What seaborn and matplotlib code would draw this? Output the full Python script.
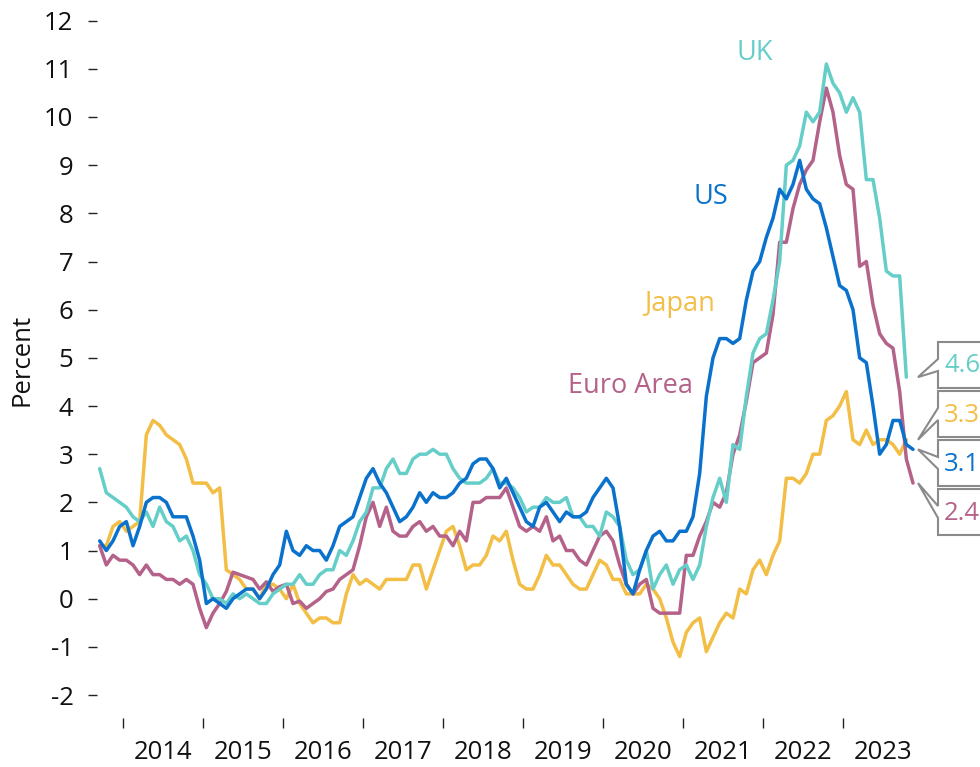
import matplotlib
matplotlib.use("Agg")
import matplotlib.pyplot as plt
import numpy as np
import pandas as pd
import seaborn as sns
from matplotlib.patches import Polygon
from matplotlib.transforms import IdentityTransform

# ---------------- data (monthly, year-on-year %, starting Sep 2013) ----------------
start_year = 2013
start_month = 9

us = [1.2, 1.0, 1.2, 1.5,
      1.6, 1.1, 1.5, 2.0, 2.1, 2.1, 2.0, 1.7, 1.7, 1.7, 1.3, 0.8,
      -0.1, 0.0, -0.1, -0.2, 0.0, 0.1, 0.2, 0.2, 0.0, 0.2, 0.5, 0.7,
      1.4, 1.0, 0.9, 1.1, 1.0, 1.0, 0.8, 1.1, 1.5, 1.6, 1.7, 2.1,
      2.5, 2.7, 2.4, 2.2, 1.9, 1.6, 1.7, 1.9, 2.2, 2.0, 2.2, 2.1,
      2.1, 2.2, 2.4, 2.5, 2.8, 2.9, 2.9, 2.7, 2.3, 2.5, 2.2, 1.9,
      1.6, 1.5, 1.9, 2.0, 1.8, 1.6, 1.8, 1.7, 1.7, 1.8, 2.1, 2.3,
      2.5, 2.3, 1.5, 0.3, 0.1, 0.6, 1.0, 1.3, 1.4, 1.2, 1.2, 1.4,
      1.4, 1.7, 2.6, 4.2, 5.0, 5.4, 5.4, 5.3, 5.4, 6.2, 6.8, 7.0,
      7.5, 7.9, 8.5, 8.3, 8.6, 9.1, 8.5, 8.3, 8.2, 7.7, 7.1, 6.5,
      6.4, 6.0, 5.0, 4.9, 4.0, 3.0, 3.2, 3.7, 3.7, 3.2, 3.1]

uk = [2.7, 2.2, 2.1, 2.0,
      1.9, 1.7, 1.6, 1.8, 1.5, 1.9, 1.6, 1.5, 1.2, 1.3, 1.0, 0.5,
      0.3, 0.0, 0.0, -0.1, 0.1, 0.0, 0.1, 0.0, -0.1, -0.1, 0.1, 0.2,
      0.3, 0.3, 0.5, 0.3, 0.3, 0.5, 0.6, 0.6, 1.0, 0.9, 1.2, 1.6,
      1.8, 2.3, 2.3, 2.7, 2.9, 2.6, 2.6, 2.9, 3.0, 3.0, 3.1, 3.0,
      3.0, 2.7, 2.5, 2.4, 2.4, 2.4, 2.5, 2.7, 2.4, 2.4, 2.3, 2.1,
      1.8, 1.9, 1.9, 2.1, 2.0, 2.0, 2.1, 1.7, 1.7, 1.5, 1.5, 1.3,
      1.8, 1.7, 1.5, 0.8, 0.5, 0.6, 1.0, 0.2, 0.5, 0.7, 0.3, 0.6,
      0.7, 0.4, 0.7, 1.5, 2.1, 2.5, 2.0, 3.2, 3.1, 4.2, 5.1, 5.4,
      5.5, 6.2, 7.0, 9.0, 9.1, 9.4, 10.1, 9.9, 10.1, 11.1, 10.7, 10.5,
      10.1, 10.4, 10.1, 8.7, 8.7, 7.9, 6.8, 6.7, 6.7, 4.6]

japan = [1.1, 1.1, 1.5, 1.6,
         1.4, 1.5, 1.6, 3.4, 3.7, 3.6, 3.4, 3.3, 3.2, 2.9, 2.4, 2.4,
         2.4, 2.2, 2.3, 0.6, 0.5, 0.4, 0.2, 0.2, 0.0, 0.3, 0.3, 0.2,
         0.0, 0.3, -0.1, -0.3, -0.5, -0.4, -0.4, -0.5, -0.5, 0.1, 0.5, 0.3,
         0.4, 0.3, 0.2, 0.4, 0.4, 0.4, 0.4, 0.7, 0.7, 0.2, 0.6, 1.0,
         1.4, 1.5, 1.1, 0.6, 0.7, 0.7, 0.9, 1.3, 1.2, 1.4, 0.8, 0.3,
         0.2, 0.2, 0.5, 0.9, 0.7, 0.7, 0.5, 0.3, 0.2, 0.2, 0.5, 0.8,
         0.7, 0.4, 0.4, 0.1, 0.1, 0.1, 0.3, 0.2, 0.0, -0.4, -0.9, -1.2,
         -0.7, -0.5, -0.4, -1.1, -0.8, -0.5, -0.3, -0.4, 0.2, 0.1, 0.6, 0.8,
         0.5, 0.9, 1.2, 2.5, 2.5, 2.4, 2.6, 3.0, 3.0, 3.7, 3.8, 4.0,
         4.3, 3.3, 3.2, 3.5, 3.2, 3.3, 3.3, 3.2, 3.0, 3.3]

euro = [1.1, 0.7, 0.9, 0.8,
        0.8, 0.7, 0.5, 0.7, 0.5, 0.5, 0.4, 0.4, 0.3, 0.4, 0.3, -0.2,
        -0.6, -0.3, -0.1, 0.15, 0.55, 0.5, 0.45, 0.4, 0.2, 0.35, 0.15, 0.25,
        0.3, -0.1, -0.05, -0.2, -0.1, 0.0, 0.15, 0.2, 0.4, 0.5, 0.6, 1.1,
        1.7, 2.0, 1.5, 1.9, 1.4, 1.3, 1.3, 1.5, 1.6, 1.4, 1.5, 1.3,
        1.3, 1.1, 1.4, 1.2, 2.0, 2.0, 2.1, 2.1, 2.1, 2.3, 1.9, 1.5,
        1.4, 1.5, 1.4, 1.7, 1.2, 1.3, 1.0, 1.0, 0.8, 0.7, 1.0, 1.3,
        1.4, 1.2, 0.7, 0.3, 0.1, 0.3, 0.4, -0.2, -0.3, -0.3, -0.3, -0.3,
        0.9, 0.9, 1.3, 1.6, 2.0, 1.9, 2.2, 3.0, 3.4, 4.1, 4.9, 5.0,
        5.1, 5.9, 7.4, 7.4, 8.1, 8.6, 8.9, 9.1, 9.9, 10.6, 10.1, 9.2,
        8.6, 8.5, 6.9, 7.0, 6.1, 5.5, 5.3, 5.2, 4.3, 2.9, 2.4]

series_names = ["Japan", "Euro Area", "UK", "US"]
series_values = [japan, euro, uk, us]
series_colors = {"US": "#0A72CC", "UK": "#66CEC8", "Japan": "#F2BE45", "Euro Area": "#B5628A"}

year_ticks = list(range(2014, 2024))
year_labels = [str(y) for y in year_ticks]
y_ticks = list(range(-2, 13))

# ---------------- build long table ----------------
rows = []
for name, vals in zip(series_names, series_values):
    for i, v in enumerate(vals):
        x = start_year + (start_month - 1 + i + 0.5) / 12.0
        rows.append({"x": x, "value": v, "series": name})
df = pd.DataFrame(rows)

# ---------------- style ----------------
sns.set_style("white")
plt.rcParams["font.family"] = ["Open Sans", "DejaVu Sans"]
plt.rcParams["axes.unicode_minus"] = False

W, H = 980, 767
fig = plt.figure(figsize=(W / 100, H / 100), dpi=100)
ax_left, ax_right, ax_top, ax_bottom = 97, 940, 10, 718
ax = fig.add_axes([ax_left / W, 1 - ax_bottom / H, (ax_right - ax_left) / W, (ax_bottom - ax_top) / H])

sns.lineplot(data=df, x="x", y="value", hue="series", hue_order=series_names,
             palette=series_colors, linewidth=2.5, legend=False, ax=ax,
             estimator=None, sort=False)

px_per_year = 80.0
x0_px = 123.0
ax.set_xlim(2014 + (ax_left - x0_px) / px_per_year, 2014 + (ax_right - x0_px) / px_per_year)
zero_px, px_per_unit = 598.7, 48.17
ax.set_ylim((zero_px - ax_bottom) / px_per_unit, (zero_px - ax_top) / px_per_unit)

for s in ax.spines.values():
    s.set_visible(False)
ax.grid(False)
ax.set_xlabel("")
ax.set_ylabel("")

ax.set_xticks(year_ticks)
ax.set_xticklabels([])
ax.set_xticks([y + 0.5 for y in year_ticks], minor=True)
ax.set_xticklabels(year_labels, minor=True)
ax.tick_params(axis="x", which="major", direction="out", length=7.2, width=1.0,
               color="#222222", bottom=True)
ax.tick_params(axis="x", which="minor", length=0, pad=16, labelsize=18.5, labelcolor="#111111")

ax.set_yticks(y_ticks)
ax.set_yticklabels([str(v) for v in y_ticks])
ax.tick_params(axis="y", direction="out", length=6.5, width=1.0, color="#222222",
               pad=10.5, labelsize=18.5, labelcolor="#111111", left=True)

# series labels
label_pos = {"UK": (2021.9, 11.33), "US": (2021.35, 8.33),
             "Japan": (2020.96, 6.12), "Euro Area": (2020.34, 4.42)}
for name, (lx, ly) in label_pos.items():
    ax.text(lx, ly, name, color=series_colors[name], fontsize=19.5, ha="center", va="center")

fig.text(22 / W, 1 - 360 / H, "Percent", rotation=90, ha="center", va="center",
         fontsize=18.5, color="#111111")

# ---------------- end-value callouts ----------------
callout_order = ["UK", "Japan", "US", "Euro Area"]
callout_boxes = [(342, 388), (391, 437), (440, 486), (489, 535)]
lookup = dict(zip(series_names, series_values))
box_left, box_right, tip_x = 938, 1000, 918
for name, (top, bot) in zip(callout_order, callout_boxes):
    vals = lookup[name]
    last_x = start_year + (start_month - 1 + len(vals) - 1 + 0.5) / 12.0
    _, tip_disp_y = ax.transData.transform((last_x, vals[-1]))
    tip_y = H - tip_disp_y
    c = (top + bot) / 2
    b1, b2 = c - 6, c + 6
    pts_img = [(box_right, top), (box_left, top), (box_left, b1), (tip_x, tip_y),
               (box_left, b2), (box_left, bot), (box_right, bot)]
    pts = [(x, H - y) for x, y in pts_img]
    poly = Polygon(pts, closed=True, facecolor="white", edgecolor="#8a8a8a",
                   linewidth=1.5, transform=IdentityTransform(), zorder=5)
    fig.add_artist(poly)
    fig.text(944 / W, 1 - (c + 1) / H, f"{vals[-1]:.1f}", color=series_colors[name],
             fontsize=18.5, ha="left", va="center", zorder=6)

fig.savefig("out.png", dpi=100)
